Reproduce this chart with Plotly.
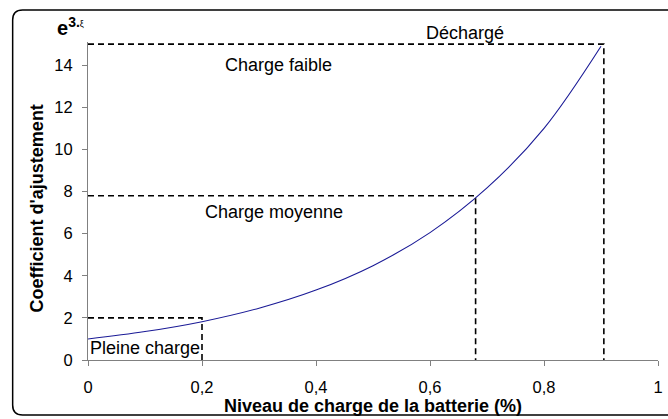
import plotly.graph_objects as go

# Adjustment coefficient e^(3·ξ) against battery charge level
charge_level = [0.0, 0.1, 0.2, 0.3, 0.4, 0.5, 0.6, 0.7, 0.8, 0.9]
coefficient = [1.0, 1.35, 1.82, 2.46, 3.32, 4.48, 6.05, 8.17, 11.0, 14.9]

# Zone boundaries (charge level, coefficient) for the dashed guides
zone_x = [0.2, 0.68, 0.905]
zone_y = [2.0, 7.8, 15.0]

# Zone names and where they sit (in axis units)
zone_names = ["Pleine charge", "Charge moyenne", "Charge faible", "Déchargé"]
zone_label_x = [0.0, 0.327, 0.334, 0.661]
zone_label_y = [0.57, 7.02, 14.0, 15.52]
zone_label_anchor = ["left", "center", "center", "center"]

x_ticks = [0, 0.2, 0.4, 0.6, 0.8, 1]
y_ticks = [0, 2, 4, 6, 8, 10, 12, 14]
x_range = [0, 1]
y_range = [0, 15.1]

W, H = 668, 419
ML, MR, MT, MB = 88, 5, 42, 59
PW, PH = W - ML - MR, H - MT - MB

FONT = "Liberation Sans, Arial, sans-serif"


def px(x):
    """pixel column -> paper x"""
    return (x - ML) / PW


def py(y):
    """pixel row -> paper y"""
    return (H - MB - y) / PH


def dx(v):
    """axis x value -> paper x"""
    return (v - x_range[0]) / (x_range[1] - x_range[0])


def dy(v):
    """axis y value -> paper y"""
    return (v - y_range[0]) / (y_range[1] - y_range[0])


fig = go.Figure()

fig.add_trace(go.Scatter(
    x=charge_level, y=coefficient, mode="lines",
    line=dict(color="#1a1a96", width=1.1, shape="spline"),
    hoverinfo="skip", showlegend=False,
))

for zx, zy in zip(zone_x, zone_y):
    fig.add_trace(go.Scatter(
        x=[0, zx, zx], y=[zy, zy, 0], mode="lines",
        line=dict(color="black", width=1.6, dash="6px,4px"),
        hoverinfo="skip", showlegend=False,
    ))

for name, lx, ly, anc in zip(zone_names, zone_label_x, zone_label_y, zone_label_anchor):
    fig.add_annotation(
        xref="paper", yref="paper", x=dx(lx), y=dy(ly),
        text=name, showarrow=False, xanchor=anc, yanchor="middle",
        font=dict(family=FONT, size=18, color="black"),
    )

# Formula label above the y axis
fig.add_annotation(
    xref="paper", yref="paper",
    x=px(55), y=py(27),
    text="<b>e</b><sup><b>3.</b><span style='font-size:9px'>ξ</span></sup>",
    showarrow=False, xanchor="left", yanchor="middle",
    font=dict(family=FONT, size=20, color="black"),
)

# Axis titles
fig.add_annotation(
    xref="paper", yref="paper", x=px(375), y=py(406),
    text="<b>Niveau de charge de la batterie (%)</b>", showarrow=False,
    xanchor="center", yanchor="middle",
    font=dict(family=FONT, size=18, color="black"),
)
fig.add_annotation(
    xref="paper", yref="paper", x=px(37), y=py(208),
    text="<b>Coefficient d'ajustement</b>", showarrow=False, textangle=-90,
    xanchor="center", yanchor="middle",
    font=dict(family=FONT, size=18, color="black"),
)

# Rounded frame, open on the right edge
r = 10
left, top, bottom, right = 12, 10, 415, 675
path = (
    f"M {px(right)},{py(bottom)} "
    f"L {px(left + r)},{py(bottom)} "
    f"Q {px(left)},{py(bottom)} {px(left)},{py(bottom - r)} "
    f"L {px(left)},{py(top + r)} "
    f"Q {px(left)},{py(top)} {px(left + r)},{py(top)} "
    f"L {px(right)},{py(top)}"
)
fig.add_shape(type="path", path=path, xref="paper", yref="paper",
              line=dict(color="black", width=1.5), layer="above")

axis_common = dict(
    showgrid=False, zeroline=False, showline=True, linecolor="#808080", linewidth=1.2,
    ticks="outside", ticklen=5, tickcolor="#808080", tickwidth=1.2,
    tickfont=dict(family=FONT, size=16.5, color="black"),
)

fig.update_layout(
    width=W, height=H,
    margin=dict(l=ML, r=MR, t=MT, b=MB),
    paper_bgcolor="white", plot_bgcolor="white",
    separators=", ",
    font=dict(family=FONT),
    xaxis=dict(range=x_range, tickvals=x_ticks, ticklabelstandoff=7, **axis_common),
    yaxis=dict(range=y_range, tickvals=y_ticks, ticklabelstandoff=6, **axis_common),
)

fig.write_html("out.html")
